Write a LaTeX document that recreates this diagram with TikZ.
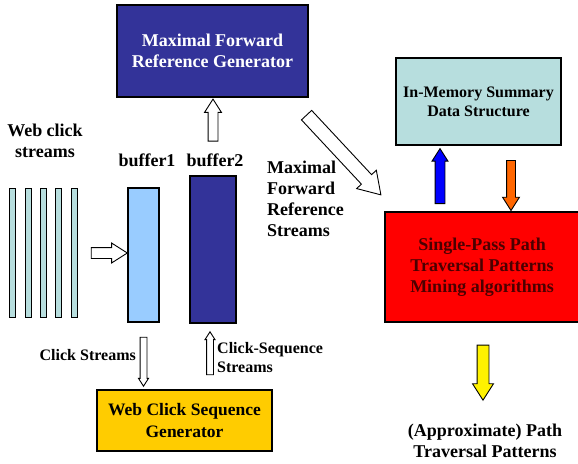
\documentclass[tikz,border=0pt]{standalone}
\usepackage{fontspec}
\setmainfont{Liberation Serif}
\usetikzlibrary{shapes.arrows}

\definecolor{navy}{RGB}{51,51,153}
\definecolor{paleteal}{RGB}{183,222,222}
\definecolor{skyblue}{RGB}{153,204,255}
\definecolor{gold}{RGB}{255,204,0}
\definecolor{maroon}{RGB}{75,0,0}
\definecolor{pumpkin}{RGB}{255,102,0}

\tikzset{
  big/.style={font=\bfseries\fontsize{18}{21}\selectfont},
  small/.style={font=\bfseries\fontsize{16}{19}\selectfont},
  box/.style={draw, line width=1.3pt, align=center, inner sep=0pt},
  bar/.style={draw, fill=paleteal, line width=1pt, minimum width=6, minimum height=129, inner sep=0pt},
  blockarrow/.style={single arrow, draw, line width=0.9pt, fill=white, inner xsep=0pt,
    single arrow tip angle=65},
}

\begin{document}
\begin{tikzpicture}[x=1pt, y=-1pt]
  \useasboundingbox (0, 0) rectangle (578, 463);
  % boxes
  \node (mfrg) at (212.5, 51) [box, big, fill=navy, text=white, minimum width=191, minimum height=92]
    {Maximal Forward\\Reference Generator};
  \node (summary) at (478.5, 101.5) [box, small, fill=paleteal, minimum width=165, minimum height=87]
    {In-Memory Summary\\Data Structure};
  \node (mining) at (482, 267) [box, big, fill=red, text=maroon, minimum width=194, minimum height=110]
    {Single-Pass Path\\Traversal Patterns\\Mining algorithms};
  \node (wcsg) at (184.5, 420.5) [box, font=\bfseries\fontsize{17.5}{22}\selectfont, fill=gold,
    minimum width=175, minimum height=61] {Web Click Sequence\\Generator};
  % buffers and streams
  \node (buf1) at (143.5, 255) [box, fill=skyblue, minimum width=31, minimum height=134] {};
  \node (buf2) at (213, 249.5) [box, fill=navy, minimum width=46, minimum height=147] {};
  \foreach \i/\x in {1/12.5, 2/28, 3/43, 4/58.5, 5/74}
    \node (s\i) at (\x, 252.5) [bar] {};
  % labels
  \node (webclick) at (45, 141) [big, align=center] {Web click\\streams};
  \node (lbuf1) at (147, 160) [big] {buffer1};
  \node (lbuf2) at (215, 160) [big] {buffer2};
  \node (mfrs) at (267, 199) [big, anchor=west, align=left, inner sep=0pt]
    {Maximal\\Forward\\Reference\\Streams};
  \node (clickst) at (136, 355) [small, anchor=east, inner sep=0pt] {Click Streams};
  \node (clickseq) at (217, 358) [small, anchor=west, align=left, inner sep=0pt]
    {Click-Sequence\\Streams};
  \node (result) at (485, 441) [big, align=center] {(Approximate) Path\\Traversal Patterns};
  % block arrows
  \node (a1) at (213, 124) [blockarrow, rotate=90, minimum height=42, minimum width=16,
    inner ysep=4.5, single arrow head extend=3.5] {};
  \node (a2) at (105, 253) [blockarrow, minimum height=36, minimum width=19,
    inner ysep=5, single arrow head extend=4.5] {};
  \node (a3) at (340, 151) [blockarrow, rotate=-47, minimum height=109, minimum width=26,
    inner ysep=6.5, single arrow head extend=6.5] {};
  \node (a4) at (440, 180) [blockarrow, fill=blue, rotate=90, minimum height=55, minimum width=15,
    inner ysep=4.5, single arrow head extend=3] {};
  \node (a5) at (511, 182) [blockarrow, fill=pumpkin, rotate=-90, minimum height=50, minimum width=16,
    inner ysep=4, single arrow head extend=4] {};
  \node (a6) at (483, 368) [blockarrow, fill=yellow, rotate=-90, minimum height=55, minimum width=20,
    inner ysep=5.5, single arrow head extend=4.5] {};
  \node (a7) at (143.5, 359) [blockarrow, rotate=-90, minimum height=49, minimum width=9,
    inner ysep=3, single arrow head extend=1.5] {};
  \node (a8) at (210, 356) [blockarrow, rotate=90, minimum height=43, minimum width=9,
    inner ysep=3, single arrow head extend=1.5] {};
\end{tikzpicture}
\end{document}
